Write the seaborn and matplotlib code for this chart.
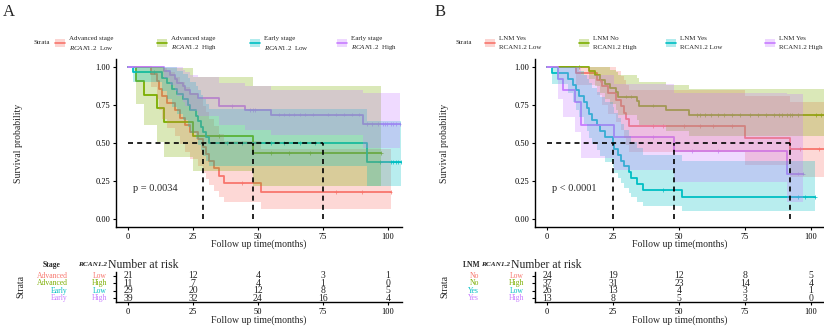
import numpy as np
import pandas as pd
import matplotlib
matplotlib.use('Agg')
import matplotlib.pyplot as plt
import matplotlib.transforms as mtrans
from matplotlib.patches import Rectangle
from matplotlib.lines import Line2D
import seaborn as sns

sns.set_theme(style='ticks')
plt.rcParams['font.family'] = ['Liberation Serif', 'DejaVu Serif']
plt.rcParams['mathtext.fontset'] = 'custom'
plt.rcParams['mathtext.rm'] = 'Liberation Serif'
plt.rcParams['mathtext.it'] = 'Liberation Serif:italic'
plt.rcParams['mathtext.bf'] = 'Liberation Serif:bold'
plt.rcParams['axes.edgecolor'] = 'black'
plt.rcParams['xtick.color'] = 'black'
plt.rcParams['ytick.color'] = 'black'

W, H = 824, 330
pal = ['#F8766D', '#7CAE00', '#00BFC4', '#C77CFF']

# ---- panel A : stage x RCAN1.2 (event / censor times, months)
a_events = [
    [9, 11, 12, 13, 15, 18, 20, 22, 24, 27, 29, 30, 31, 33, 35, 37, 51],
    [3, 6, 11, 14, 25, 48],
    [2, 13, 15, 17, 19, 21, 23, 24, 26, 27, 28, 29, 30, 31, 92, 92],
    [14, 16, 18, 19, 21, 22, 24, 27, 35, 35, 45, 55, 90.5],
]
a_censor = [
    [44, 80, 90, 101],
    [35, 55, 62, 70, 97.5],
    [10, 38, 44, 55, 60, 66, 72, 97, 101, 102, 103, 104, 105],
    [40, 47, 48, 49, 58, 60, 62, 64, 66, 68, 71, 77, 80, 83, 86, 89,
     92, 94, 96, 98, 99, 99.5, 101, 102, 103, 104.5],
]
a_medians = [29, 48, 75]
a_risk = [[21, 12, 4, 3, 1], [11, 7, 4, 1, 0], [29, 20, 12, 8, 5], [39, 32, 24, 16, 4]]
a_rowlab1 = ['Advanced', 'Advanced', 'Early', 'Early']
a_rowlab2 = ['Low', 'High', 'Low', 'High']
a_leg1 = ['Advanced stage', 'Advanced stage', 'Early stage', 'Early stage']
a_leg2 = [r'$\mathit{RCAN1.2}$  Low', r'$\mathit{RCAN1.2}$  High',
          r'$\mathit{RCAN1.2}$  Low', r'$\mathit{RCAN1.2}$  High']

# ---- panel B : LNM x RCAN1.2
b_events = [
    [11, 19, 21, 23, 26, 28, 29, 30, 31, 75, 92],
    [16, 18, 20, 22, 24, 26, 27, 34, 35, 45, 54],
    [2, 8, 10, 11, 12, 14, 15, 16, 17, 19, 20, 22, 25, 25.5, 27, 28, 29,
     31, 32, 34, 36.5, 51],
    [4, 6, 10.5, 13, 13, 25.5, 48, 91],
]
b_censor = [
    [20, 40, 44, 52, 58, 63, 70, 96, 103, 106, 108, 110, 112],
    [12, 30, 32, 40, 57, 58, 60, 62, 65, 67, 70, 73, 77, 80, 83, 86, 88,
     89, 91, 92, 93, 95, 102, 104, 107, 110],
    [44, 95, 98, 101.5],
    [40, 55, 65, 95, 97],
]
b_medians = [25, 48, 92]
b_risk = [[24, 19, 12, 8, 5], [37, 31, 23, 14, 4], [26, 13, 4, 3, 1], [13, 8, 5, 3, 0]]
b_rowlab1 = ['No', 'No', 'Yes', 'Yes']
b_rowlab2 = ['Low', 'High', 'Low', 'High']
b_leg1 = ['LNM Yes', 'LNM No', 'LNM Yes', 'LNM Yes']
b_leg2 = ['RCAN1.2 Low', 'RCAN1.2 High', 'RCAN1.2 Low', 'RCAN1.2 High']

risk_times = [0, 25, 50, 75, 100]
xl = (-4.6, 105.4)


def km(ev, ce):
    t = np.array(ev + ce, float)
    e = np.array([1] * len(ev) + [0] * len(ce))
    s, v = 1.0, 0.0
    rows = [(0.0, 1.0, 1.0, 1.0)]
    for u in np.unique(t):
        n = (t >= u).sum()
        d = e[t == u].sum()
        if d:
            s *= 1 - d / n
            if n > d:
                v += d / (n * (n - d))
        lo = s * np.exp(-1.96 * np.sqrt(v))
        hi = min(1.0, s * np.exp(1.96 * np.sqrt(v)))
        rows.append((u, s, lo, hi))
    return pd.DataFrame(rows, columns=['time', 'surv', 'lower', 'upper'])


fig = plt.figure(figsize=(W / 100, H / 100), dpi=100)


def fx(px):
    return px / W


def fy(py):
    return 1 - py / H


def panel(left, width, events, censor, medians, pval, risk, lab1, lab2,
          leg1, leg2, heads, pos):
    ax = fig.add_axes([fx(left), fy(227), width / W, 168 / H])
    lines, cens = [], []
    for i, (ev, ce) in enumerate(zip(events, censor)):
        d = km(ev, ce)
        d['strata'] = f's{i}'
        lines.append(d)
        # ribbons go over the lines, as in the survminer output
        ax.fill_between(d['time'], d['lower'], d['upper'], step='post',
                        color=pal[i], alpha=0.28, lw=0, zorder=4)
        cens.append(d[d['time'].isin(ce)].copy())
    df = pd.concat(lines)
    cdf = pd.concat(cens)
    order = [f's{i}' for i in range(4)]
    sns.lineplot(data=df, x='time', y='surv', hue='strata', hue_order=order,
                 palette=pal, drawstyle='steps-post', estimator=None,
                 legend=False, lw=1.3, ax=ax, zorder=3)
    sns.scatterplot(data=cdf, x='time', y='surv', hue='strata', hue_order=order,
                    palette=pal, marker='+', s=7, linewidth=0.5,
                    legend=False, ax=ax, zorder=3)
    # median lines
    ax.plot([0, max(medians)], [0.5, 0.5], color='black', ls=(0, (3, 2.5)),
            lw=1.2, zorder=5)
    for m in medians:
        ax.plot([m, m], [0, 0.5], color='black', ls=(0, (3, 2.5)), lw=1.2,
                zorder=5)
    ax.text(2, 0.2, pval, fontsize=7.5, ha='left', va='center')
    ax.set_xlim(xl)
    ax.set_ylim(-0.0526, 1.0526)
    ax.set_xticks(risk_times)
    ax.set_yticks([0, 0.25, 0.5, 0.75, 1.0])
    ax.set_yticklabels(['0.00', '0.25', '0.50', '0.75', '1.00'])
    ax.tick_params(labelsize=6, length=2.5, width=0.8, pad=1.5)
    ax.set_xlabel('Follow up time(months)', fontsize=7)
    ax.xaxis.set_label_coords(0.5, -0.1)
    ax.xaxis.label.set_va('center')
    ax.set_ylabel('Survival probability', fontsize=7)
    ax.yaxis.set_label_coords(pos['ylab'], 0.5)
    sns.despine(ax=ax)
    for sp in ax.spines.values():
        sp.set_linewidth(1.0)

    # legend
    fig.text(fx(pos['strata_leg']), fy(43), 'Strata', fontsize=5, va='center')
    for i in range(4):
        kx = pos['keys'][i]
        fig.patches.append(Rectangle((fx(kx), fy(47)), 10 / W, 8 / H,
                                     transform=fig.transFigure,
                                     facecolor=pal[i], alpha=0.3, lw=0))
        fig.lines.append(Line2D([fx(kx), fx(kx + 10)], [fy(43), fy(43)],
                                transform=fig.transFigure, color=pal[i], lw=1.2))
        fig.text(fx(kx + 14), fy(38.5), leg1[i], fontsize=5, va='center')
        fig.text(fx(kx + 14), fy(47.5), leg2[i], fontsize=5, va='center')

    # risk table
    rt = fig.add_axes([fx(left), fy(302), width / W, 30 / H])
    rt.set_xlim(xl)
    rt.set_ylim(0.5, 4.5)
    for i, row in enumerate(risk):
        for t, n in zip(risk_times, row):
            rt.text(t, 4 - i, str(n), ha='center', va='center', fontsize=7)
    rt.set_xticks(risk_times)
    rt.set_yticks([1, 2, 3, 4])
    rt.set_yticklabels([])
    rt.tick_params(labelsize=6, length=2.5, width=0.8, pad=1.5)
    rt.set_xlabel('Follow up time(months)', fontsize=7)
    rt.xaxis.set_label_coords(0.5, -0.6)
    rt.xaxis.label.set_va('center')
    sns.despine(ax=rt)
    for sp in rt.spines.values():
        sp.set_linewidth(1.0)
    tr = mtrans.blended_transform_factory(fig.transFigure, rt.transData)
    for i in range(4):
        fig.text(fx(pos['lab1']), 4 - i, lab1[i], transform=tr, ha='right',
                 va='center', fontsize=5.5, color=pal[i])
        fig.text(fx(pos['lab2']), 4 - i, lab2[i], transform=tr, ha='right',
                 va='center', fontsize=5.5, color=pal[i])
    fig.text(fx(pos['strata_rt']), fy(287), 'Strata', rotation=90, fontsize=7,
             ha='center', va='center')
    fig.text(fx(pos['head1']), fy(265), heads, fontsize=5.5, weight='bold',
             ha='left', va='center')
    fig.text(fx(pos['head2']), fy(265), 'RCAN1.2', fontsize=5.2, weight='bold',
             style='italic', ha='left', va='center')
    fig.text(fx(pos['head3']), fy(265), 'Number at risk', fontsize=8.5,
             ha='left', va='center')


panel(116, 286, a_events, a_censor, a_medians, 'p = 0.0034', a_risk,
      a_rowlab1, a_rowlab2, a_leg1, a_leg2, 'Stage',
      dict(ylab=(23 - 116) / 286, strata_leg=33, keys=[55, 157, 250, 337],
           lab1=68, lab2=107, strata_rt=21, head1=43, head2=78, head3=108))
panel(535, 290, b_events, b_censor, b_medians, 'p < 0.0001', b_risk,
      b_rowlab1, b_rowlab2, b_leg1, b_leg2, 'LNM',
      dict(ylab=(449 - 535) / 290, strata_leg=455, keys=[485, 579, 666, 765],
           lab1=479, lab2=524, strata_rt=445, head1=463, head2=481, head3=511))

fig.text(fx(3), fy(12), 'A', fontsize=12, va='center')
fig.text(fx(435), fy(12), 'B', fontsize=12, va='center')

fig.savefig('out.png', dpi=100)
